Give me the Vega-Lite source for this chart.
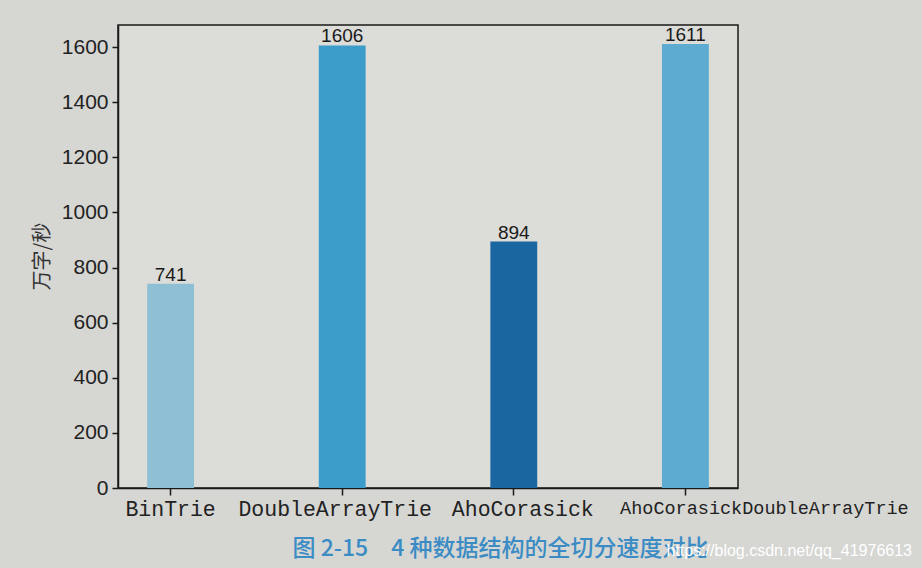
{
  "$schema": "https://vega.github.io/schema/vega-lite/v6.json",
  "width": 620,
  "height": 463,
  "autosize": {"type": "none"},
  "padding": {"left": 118, "top": 25, "right": 184, "bottom": 80},
  "background": "#d6d6d3",
  "title": {
    "text": "https://blog.csdn.net/qq_41976613",
    "orient": "bottom",
    "anchor": "end",
    "frame": "group",
    "dx": 174,
    "dy": -21,
    "font": "Liberation Sans",
    "fontSize": 16,
    "fontWeight": "normal",
    "color": "#ffffff"
  },
  "config": {
    "view": {"stroke": "#1a1a1a", "strokeWidth": 1.5, "fill": "#dcdcd9"},
    "axis": {"grid": false, "domainColor": "#1a1a1a", "domainWidth": 1.5, "tickColor": "#1a1a1a", "tickWidth": 1.5, "labelColor": "#222222"}
  },
  "data": {
    "values": [
      {"name": "BinTrie", "speed": 741},
      {"name": "DoubleArrayTrie", "speed": 1606},
      {"name": "AhoCorasick", "speed": 894},
      {"name": "AhoCorasickDoubleArrayTrie", "speed": 1611}
    ]
  },
  "encoding": {
    "x": {
      "field": "name",
      "type": "nominal",
      "sort": null,
      "scale": {"paddingInner": 0.727, "paddingOuter": 0.17},
      "axis": {
        "title": "图 2-15　4 种数据结构的全切分速度对比",
        "titleFont": "Noto Sans CJK SC",
        "titleFontSize": 23,
        "titleFontWeight": 500,
        "titleColor": "#3b8cc4",
        "titleX": 382,
        "titleY": 60,
        "titleAnchor": "middle",
        "titleBaseline": "middle",
        "labelAngle": 0,
        "labelFont": "Liberation Mono",
        "labelFontSize": {"condition": {"test": "datum.value === 'AhoCorasickDoubleArrayTrie'", "value": 18.5}, "value": 21.5},
        "labelOffset": {"condition": [
          {"test": "datum.value === 'AhoCorasickDoubleArrayTrie'", "value": 79},
          {"test": "datum.value === 'AhoCorasick'", "value": 9},
          {"test": "datum.value === 'DoubleArrayTrie'", "value": -7}
        ], "value": 0},
        "labelPadding": 3,
        "labelLimit": 0,
        "tickSize": 7,
        "labelOverlap": false
      }
    },
    "y": {
      "field": "speed",
      "type": "quantitative",
      "scale": {"domain": [0, 1680], "nice": false},
      "axis": {
        "values": [0, 200, 400, 600, 800, 1000, 1200, 1400, 1600],
        "format": "d",
        "title": "万字/秒",
        "titleFont": "Noto Sans CJK SC",
        "titleFontSize": 20,
        "titleFontWeight": "normal",
        "titleColor": "#333333",
        "titleAngle": -90,
        "titleX": -76,
        "titleY": 231,
        "titleAnchor": "middle",
        "titleBaseline": "middle",
        "labelFont": "Liberation Sans",
        "labelFontSize": 21,
        "labelPadding": 4,
        "tickSize": 6
      }
    }
  },
  "layer": [
    {
      "mark": {"type": "bar"},
      "encoding": {
        "color": {
          "field": "name",
          "type": "nominal",
          "sort": null,
          "scale": {
            "domain": ["BinTrie", "DoubleArrayTrie", "AhoCorasick", "AhoCorasickDoubleArrayTrie"],
            "range": ["#8fbfd4", "#3c9cca", "#1a66a0", "#5dabd1"]
          },
          "legend": null
        }
      }
    },
    {
      "mark": {"type": "text", "baseline": "bottom", "dy": 1, "font": "Liberation Sans", "fontSize": 19, "color": "#1a1a1a"},
      "encoding": {"text": {"field": "speed", "type": "quantitative"}}
    }
  ]
}
